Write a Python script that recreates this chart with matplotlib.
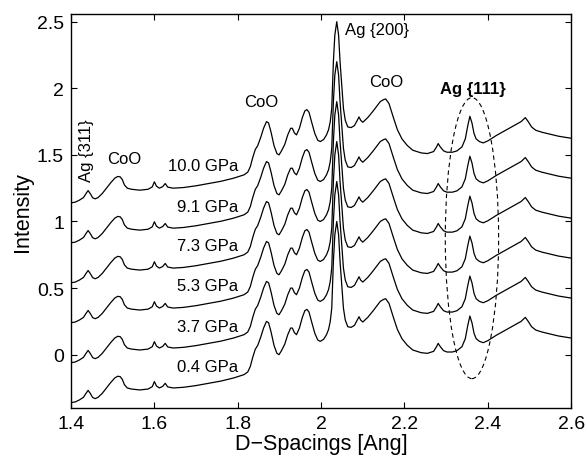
import matplotlib
matplotlib.use("Agg")
import matplotlib.pyplot as plt
from matplotlib.patches import Ellipse

plt.rcParams['font.family'] = ['Liberation Sans', 'DejaVu Sans']

# D-spacing sample points (Angstrom) and intensity of the 0.4 GPa pattern
d_spacing = [1.400, 1.410, 1.420, 1.430, 1.436, 1.441, 1.446, 1.452, 1.458, 1.465,
             1.475, 1.485, 1.495, 1.505, 1.512, 1.518, 1.523, 1.528, 1.535, 1.545,
             1.565, 1.585, 1.595, 1.600, 1.605, 1.612, 1.620, 1.626, 1.632, 1.645,
             1.670, 1.700, 1.730, 1.760, 1.790, 1.815, 1.824, 1.830, 1.836, 1.842,
             1.848, 1.855, 1.862, 1.869, 1.874, 1.880, 1.887, 1.894, 1.899, 1.905,
             1.913, 1.920, 1.927, 1.931, 1.936, 1.941, 1.948, 1.955, 1.961, 1.966,
             1.971, 1.977, 1.985, 1.992, 1.998, 2.006, 2.013, 2.018, 2.022, 2.0256,
             2.0295, 2.033, 2.0376, 2.042, 2.0455, 2.0536, 2.058, 2.064, 2.072, 2.080,
             2.086, 2.091, 2.095, 2.100, 2.112, 2.125, 2.142, 2.150, 2.155, 2.163,
             2.173, 2.183, 2.194, 2.207, 2.220, 2.240, 2.255, 2.270, 2.277, 2.281,
             2.286, 2.294, 2.302, 2.315, 2.326, 2.338, 2.346, 2.352, 2.357, 2.362,
             2.367, 2.372, 2.380, 2.389, 2.400, 2.420, 2.440, 2.460, 2.480, 2.490,
             2.497, 2.505, 2.515, 2.530, 2.550, 2.570, 2.600]
profile_04 = [-0.360, -0.355, -0.340, -0.320, -0.290, -0.268, -0.290, -0.322, -0.330, -0.320,
              -0.290, -0.250, -0.210, -0.175, -0.162, -0.165, -0.185, -0.225, -0.250, -0.258,
              -0.265, -0.258, -0.240, -0.202, -0.235, -0.250, -0.238, -0.215, -0.242, -0.250,
              -0.245, -0.232, -0.215, -0.198, -0.175, -0.150, -0.130, -0.090, -0.020, 0.040,
              0.070, 0.130, 0.200, 0.250, 0.240, 0.170, 0.070, 0.010, 0.000, 0.030,
              0.080, 0.150, 0.200, 0.200, 0.165, 0.150, 0.200, 0.280, 0.330, 0.340,
              0.320, 0.250, 0.160, 0.110, 0.100, 0.115, 0.150, 0.190, 0.250, 0.350,
              0.700, 0.900, 1.000, 0.900, 0.700, 0.350, 0.260, 0.210, 0.205, 0.220,
              0.255, 0.285, 0.260, 0.245, 0.280, 0.330, 0.400, 0.415, 0.420, 0.385,
              0.285, 0.190, 0.120, 0.070, 0.035, 0.015, 0.010, 0.025, 0.060, 0.085,
              0.060, 0.030, 0.020, 0.020, 0.030, 0.060, 0.120, 0.220, 0.290, 0.240,
              0.160, 0.120, 0.100, 0.090, 0.105, 0.145, 0.180, 0.215, 0.250, 0.280,
              0.250, 0.210, 0.185, 0.170, 0.155, 0.140, 0.125]

pressures = ['0.4 GPa', '3.7 GPa', '5.3 GPa', '7.3 GPa', '9.1 GPa', '10.0 GPa']
offsets = [0.0, 0.30, 0.60, 0.90, 1.20, 1.50]
label_y = [-0.09, 0.21, 0.52, 0.82, 1.11, 1.42]

x_ticks = [1.4, 1.6, 1.8, 2.0, 2.2, 2.4, 2.6]
x_tick_labels = ['1.4', '1.6', '1.8', '2', '2.2', '2.4', '2.6']
y_ticks = [0, 0.5, 1, 1.5, 2, 2.5]
y_tick_labels = ['0', '0.5', '1', '1.5', '2', '2.5']

fig = plt.figure(figsize=(5.87, 4.60), dpi=100)
ax = fig.add_axes([0.121, 0.111, 0.852, 0.857])

for off, lab, ly in zip(offsets, pressures, label_y):
    ax.plot(d_spacing, [v + off for v in profile_04], color='black', lw=0.9)
    ax.text(1.801, ly, lab, ha='right', va='center', fontsize=12)

ax.add_patch(Ellipse((2.362, 0.875), width=0.128, height=2.11, fill=False,
                     edgecolor='black', lw=0.8, linestyle=(0, (4, 3))))

ann_fs = 12
ax.text(1.436, 1.54, 'Ag {311}', rotation=90, ha='center', va='center', fontsize=ann_fs)
ax.text(1.528, 1.47, 'CoO', ha='center', va='center', fontsize=ann_fs)
ax.text(1.856, 1.90, 'CoO', ha='center', va='center', fontsize=ann_fs)
ax.text(2.058, 2.44, 'Ag {200}', ha='left', va='center', fontsize=ann_fs)
ax.text(2.157, 2.05, 'CoO', ha='center', va='center', fontsize=ann_fs)
ax.text(2.365, 2.00, 'Ag {111}', ha='center', va='center', fontsize=ann_fs, fontweight='bold')

ax.set_xlim(1.4, 2.6)
ax.set_ylim(-0.40, 2.56)
ax.set_xticks(x_ticks)
ax.set_xticklabels(x_tick_labels)
ax.set_yticks(y_ticks)
ax.set_yticklabels(y_tick_labels)
ax.tick_params(direction='in', top=True, right=True, length=4, width=0.8,
               labelsize=14, pad=5)
for s in ax.spines.values():
    s.set_linewidth(1.0)
ax.set_xlabel('D\u2212Spacings [Ang]', fontsize=15.5, labelpad=1)
ax.set_ylabel('Intensity', fontsize=15.5, labelpad=3)

fig.savefig('out.png', dpi=100)
